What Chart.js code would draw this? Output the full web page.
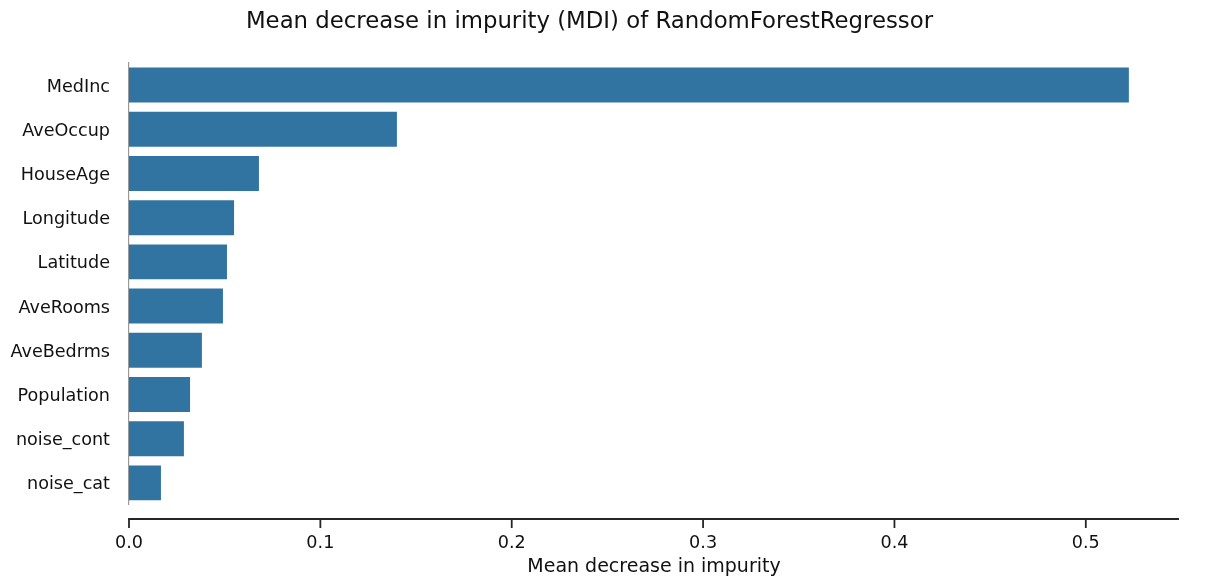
<!DOCTYPE html>
<html>
<head>
<meta charset="utf-8">
<script src="https://cdn.jsdelivr.net/npm/chart.js@4"></script>
<style>
html,body{margin:0;padding:0;background:#fff;}
#wrap{width:1210px;height:587px;position:relative;}
</style>
</head>
<body>
<div id="wrap"><canvas id="c"></canvas></div>
<script>
const features = ["MedInc","AveOccup","HouseAge","Longitude","Latitude","AveRooms","AveBedrms","Population","noise_cont","noise_cat"];
const importances = [0.5225,0.140,0.0679,0.0549,0.0512,0.0491,0.0381,0.0319,0.0287,0.0167];
const xTickValues = [0.0,0.1,0.2,0.3,0.4,0.5];
const xMax = 0.5487;

const FONT = "'DejaVu Sans', sans-serif";

const offsetXAxis = {
  id: 'offsetXAxis',
  afterDraw(chart) {
    const xs = chart.scales.x;
    const ctx = chart.ctx;
    const y0 = chart.chartArea.bottom + 14;
    ctx.save();
    ctx.strokeStyle = '#262626';
    ctx.lineWidth = 1.8;
    ctx.beginPath();
    ctx.moveTo(xs.left - 0.9, y0);
    ctx.lineTo(xs.right, y0);
    ctx.stroke();
    xs.ticks.forEach(t => {
      const px = xs.getPixelForValue(t.value);
      ctx.beginPath();
      ctx.moveTo(px, y0);
      ctx.lineTo(px, y0 + 9);
      ctx.stroke();
    });
    ctx.restore();
  }
};

new Chart(document.getElementById('c'), {
  type: 'bar',
  data: {
    labels: features,
    datasets: [{
      data: importances,
      backgroundColor: '#3274a1',
      borderWidth: 0,
      barPercentage: 0.79,
      categoryPercentage: 1.0
    }]
  },
  options: {
    indexAxis: 'y',
    responsive: true,
    maintainAspectRatio: false,
    animation: false,
    devicePixelRatio: 1,
    layout: { padding: { left: 0, right: 31, top: 0, bottom: 0 } },
    plugins: {
      legend: { display: false },
      tooltip: { enabled: false },
      title: {
        display: true,
        text: 'Mean decrease in impurity (MDI) of RandomForestRegressor',
        color: '#111',
        font: { family: FONT, size: 22.8, weight: 'normal' },
        padding: { top: 8, bottom: 27.6 }
      }
    },
    scales: {
      x: {
        type: 'linear',
        min: 0,
        max: xMax,
        grid: { display: false },
        border: { display: false },
        afterFit(scale) { scale.height = 82; },
        afterBuildTicks(scale) { scale.ticks = xTickValues.map(v => ({ value: v })); },
        ticks: {
          includeBounds: false,
          padding: 20,
          color: '#111',
          font: { family: FONT, size: 17.6 },
          callback: v => Number(v).toFixed(1)
        },
        title: {
          display: true,
          text: 'Mean decrease in impurity',
          color: '#111',
          font: { family: FONT, size: 19 },
          padding: { top: 0, bottom: 9 }
        }
      },
      y: {
        type: 'category',
        grid: { display: false },
        border: { display: true, color: '#999', width: 1.2 },
        afterFit(scale) { scale.width = 129; },
        ticks: {
          padding: 11,
          labelOffset: 2,
          color: '#111',
          font: { family: FONT, size: 17.6 }
        }
      }
    }
  },
  plugins: [offsetXAxis]
});
</script>
</body>
</html>
